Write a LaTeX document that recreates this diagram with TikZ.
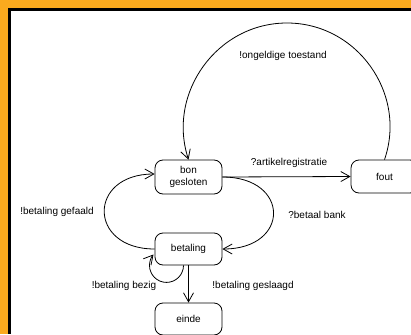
\documentclass[tikz,border=0pt]{standalone}
\usepackage{fontspec}
\setmainfont{Liberation Sans}
\usetikzlibrary{arrows.meta}
\definecolor{frameorange}{RGB}{250,170,30}
\begin{document}
\begin{tikzpicture}[x=1pt,y=1pt,
  state/.style={draw, line width=0.8pt, rounded corners=8pt, minimum width=67pt, inner sep=0pt, font=\fontsize{10}{11.5}\selectfont, align=center},
  lbl/.style={font=\fontsize{10}{12}\selectfont, inner sep=0pt},
  edge/.style={draw, line width=0.8pt, -{Straight Barb[length=9pt,width=10pt,line width=0.8pt]}},
]
\useasboundingbox (0,0) rectangle (411,-334);
\fill[frameorange] (0,0) rectangle (411,-334);
\fill[black] (8,-8) rectangle (411,-334);
\fill[white] (11,-11) rectangle (411,-334);
\clip (0,0) rectangle (411,-334);

\node[state, minimum height=34pt] (bon) at (188.5,-177) {bon\\gesloten};
\node[state, minimum height=32pt] (bet) at (188.5,-249) {betaling};
\node[state, minimum height=32pt] (einde) at (188.5,-319) {einde};
\node[state, minimum height=33pt] (fout) at (384.5,-176.5) {fout};

\coordinate (top) at (287,-23);
\draw[edge] (fout.north) to[out=71,in=0,distance=70pt] (top) to[out=180,in=108,distance=70pt] (bon.north);
\draw[edge] (bon.east) -- (fout.west);
\draw[edge] (bon.east) to[out=0,in=0,distance=68pt] (bet.east);
\draw[edge] (bet.west) to[out=180,in=180,distance=67pt] ([yshift=3pt]bon.west);
\draw[edge] ([xshift=-5pt]bet.south) arc[start angle=0, end angle=-220, radius=17pt];
\draw[edge] (bet.south) -- (einde.north);

\node[lbl] (l1) at (283,-56) {!ongeldige toestand};
\node[lbl] (l2) at (289,-163) {?artikelregistratie};
\node[lbl] (l3) at (317,-215) {?betaal bank};
\node[lbl] (l4) at (57,-212) {!betaling gefaald};
\node[lbl] (l5) at (124,-286) {!betaling bezig};
\node[lbl] (l6) at (253,-286) {!betaling geslaagd};
\end{tikzpicture}
\end{document}
